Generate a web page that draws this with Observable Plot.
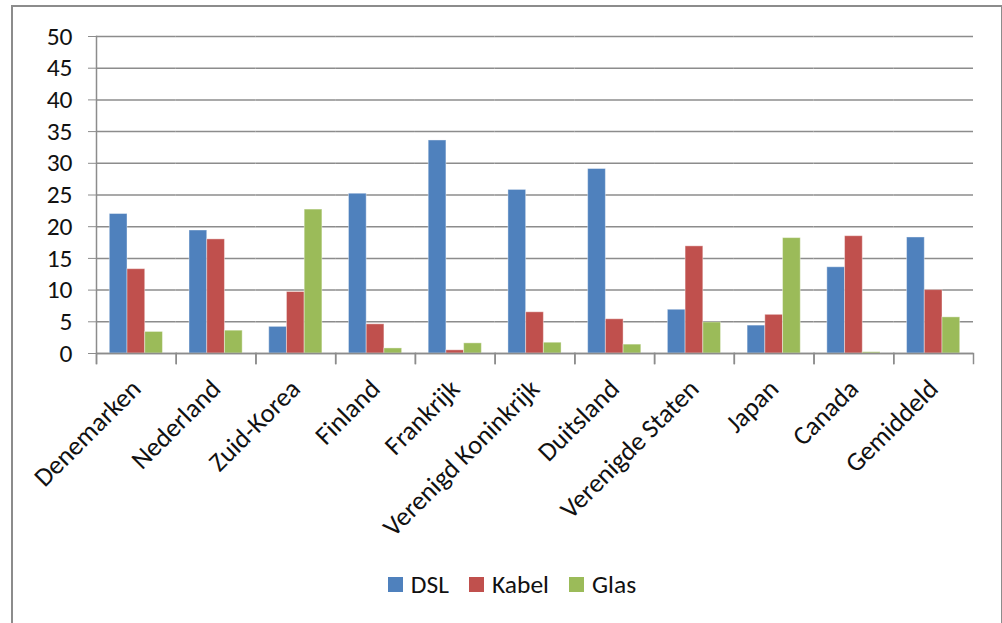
<!DOCTYPE html>
<html>
<head>
<meta charset="utf-8">
<script src="https://cdn.jsdelivr.net/npm/d3@7"></script>
<script src="https://cdn.jsdelivr.net/npm/@observablehq/plot@0.6"></script>
<style>
  html, body { margin: 0; padding: 0; background: #fff; }
  #page { position: relative; width: 1002px; height: 623px; overflow: hidden; background: #fff; }
  #box { position: absolute; left: 11px; top: 5px; width: 992px; height: 700px; box-sizing: border-box; border: 2px solid #8c8c8c; }
  #chart { position: absolute; left: 0; top: 0; }
  #legend { position: absolute; left: 12px; width: 1000px; top: 568px; }
  #legend .lg-swatches-wrap { justify-content: center; margin: 0; }
  #legend .lg-swatch { margin-right: 20px; }
  #legend .lg-swatch:last-child { margin-right: 0; }
  #legend .lg-swatch > svg { margin-right: 8px; }
</style>
</head>
<body>
<div id="page">
  <div id="box"></div>
  <div id="chart"></div>
  <div id="legend"></div>
</div>
<script>
// Breedband-abonnementen per 100 inwoners, naar technologie
const countries = ["Denemarken", "Nederland", "Zuid-Korea", "Finland", "Frankrijk",
  "Verenigd Koninkrijk", "Duitsland", "Verenigde Staten", "Japan", "Canada", "Gemiddeld"];
const series = ["DSL", "Kabel", "Glas"];
const dsl   = [22.0, 19.4, 4.2, 25.2, 33.6, 25.8, 29.1, 6.9, 4.4, 13.6, 18.3];
const kabel = [13.3, 18.0, 9.7, 4.6, 0.5, 6.5, 5.4, 16.9, 6.1, 18.5, 10.0];
const glas  = [3.4, 3.6, 22.7, 0.8, 1.6, 1.7, 1.4, 4.9, 18.2, 0.2, 5.7];
const yTicks = [0, 5, 10, 15, 20, 25, 30, 35, 40, 45, 50];
const colors = ["#4F81BD", "#C0504D", "#9BBB59"];

const values = [dsl, kabel, glas];
const rows = countries.flatMap((country, i) =>
  series.map((s, j) => ({country, series: s, value: values[j][i]})));

const FONT = "Carlito, Lato, 'Open Sans', sans-serif";
const FS = 25.5;
const GRID = "#8c8c8c";
const H = 560, MT = 36, MB = 207;
const innerH = H - MT - MB;
const tickLen = 10;

const chart = Plot.plot({
  width: 1002,
  height: H,
  marginTop: MT,
  marginBottom: MB,
  marginLeft: 96,
  marginRight: 29,
  style: {fontFamily: FONT, fontSize: FS + "px", background: "transparent", color: "#111", overflow: "visible"},
  fx: {domain: countries, padding: 0, round: false, label: null},
  x: {domain: series, paddingInner: 0, paddingOuter: 0.75, round: false, axis: null},
  y: {domain: [0, 50], label: null},
  color: {domain: series, range: colors},
  marks: [
    Plot.ruleY(yTicks, {stroke: GRID, strokeWidth: 1.5}),
    Plot.barY(rows, {fx: "country", x: "series", y: "value", fill: "series",
      stroke: "#ffffff", strokeOpacity: 0.4, strokeWidth: 1}),
    Plot.ruleY([0], {stroke: GRID, strokeWidth: 1.5}),
    // value axis line on the left edge
    Plot.frame({anchor: "left", facetAnchor: "left", stroke: GRID, strokeWidth: 1.5, insetBottom: -tickLen}),
    // category separator ticks below the baseline
    Plot.frame({anchor: "left", stroke: GRID, strokeWidth: 1.5, insetTop: innerH, insetBottom: -tickLen}),
    Plot.frame({anchor: "right", stroke: GRID, strokeWidth: 1.5, insetTop: innerH, insetBottom: -tickLen}),
    Plot.axisY({ticks: yTicks, tickSize: 8, tickPadding: 16, stroke: GRID, fill: "#111",
      label: null, tickFormat: d => String(d), fontSize: FS}),
    Plot.axisFx({anchor: "bottom", tickRotate: -45, tickSize: 0, tickPadding: 31, dx: 0, label: null,
      fill: "#111", fontSize: 26.5})
  ]
});
document.getElementById("chart").appendChild(chart);

const legend = chart.legend("color", {
  className: "lg",
  swatchSize: 15,
  style: {fontFamily: FONT, fontSize: FS + "px", color: "#111"}
});
document.getElementById("legend").appendChild(legend);
</script>
</body>
</html>
